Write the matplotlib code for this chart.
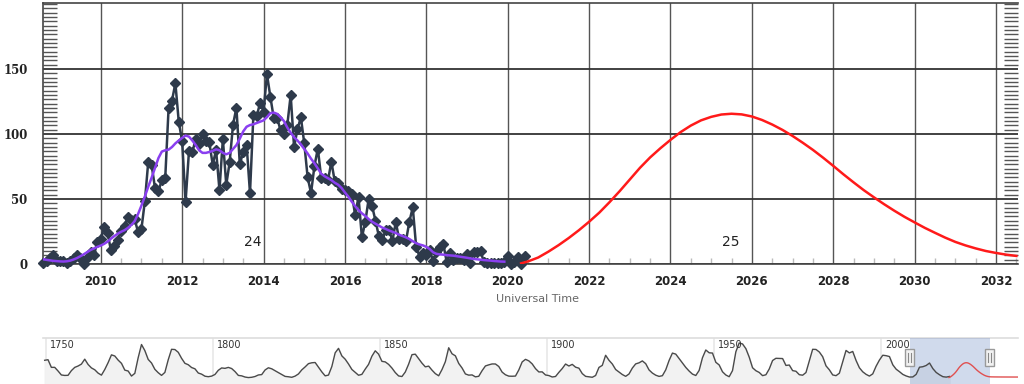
import matplotlib
matplotlib.use("Agg")
import matplotlib.pyplot as plt
from matplotlib.patches import Rectangle
from matplotlib.ticker import MultipleLocator

# ---------------- data ----------------
monthly_start_year = 2008
monthly_start_month = 8
monthly_ssn = [
    0.5, 2.0, 5.0, 6.8, 2.0,
    2.2, 2.0, 1.0, 2.0, 4.8, 7.0, 5.0, 0.0, 4.5, 9.5, 7.0, 17.0,
    19.6, 28.5, 24.0, 10.4, 13.9, 18.8, 25.2, 29.6, 36.4, 33.6, 34.4, 24.5,
    27.3, 48.3, 78.6, 76.1, 58.2, 56.1, 64.5, 65.8, 120.1, 125.7, 139.1, 109.3,
    94.4, 47.8, 86.6, 85.9, 96.5, 92.0, 100.1, 94.8, 93.7, 76.5, 87.6, 56.8,
    96.1, 60.9, 78.3, 107.3, 120.2, 76.7, 86.2, 91.8, 54.5, 114.4, 113.9, 124.2,
    117.0, 146.1, 128.7, 112.5, 112.5, 102.9, 100.2, 106.9, 130.0, 90.0, 103.6, 112.9,
    93.0, 66.7, 54.5, 75.3, 88.8, 66.5, 65.8, 64.4, 78.6, 63.6, 62.2, 58.0,
    57.0, 56.4, 54.1, 37.9, 51.5, 20.5, 32.4, 50.2, 44.6, 33.4, 21.4, 18.5,
    26.1, 26.4, 17.7, 32.3, 18.9, 19.2, 17.8, 32.6, 43.6, 13.2, 5.7, 8.2,
    6.8, 10.7, 2.5, 8.9, 13.1, 15.6, 1.6, 8.7, 3.3, 4.9, 4.9, 3.1,
    7.7, 0.8, 9.4, 9.1, 9.9, 1.2, 0.9, 0.5, 1.1, 0.4, 0.5, 1.5,
    6.2, 0.2, 1.5, 5.2, 0.2, 5.8,
]
smoothed_ssn = [
    3.6, 3.2, 2.8, 2.4, 2.2,
    2.0, 1.9, 2.1, 2.6, 3.5, 4.6, 6.0, 7.5, 9.2, 10.8, 12.0, 13.2,
    14.2, 15.5, 17.2, 19.5, 21.5, 23.3, 24.8, 26.0, 27.8, 30.0, 33.0, 38.5,
    45.0, 52.0, 59.5, 66.5, 74.0, 81.5, 86.5, 87.5, 88.0, 90.0, 92.8, 95.0,
    97.0, 98.8, 98.0, 95.0, 91.5, 87.5, 85.5, 85.5, 86.2, 87.0, 88.2, 87.5,
    85.5, 84.4, 85.5, 88.5, 91.5, 96.5, 102.0, 105.6, 106.9, 107.5, 108.5, 109.5,
    110.5, 113.0, 116.0, 116.5, 115.5, 113.0, 110.0, 105.0, 101.0, 97.5, 95.0, 92.0,
    88.5, 85.0, 81.0, 77.5, 73.5, 69.5, 67.5, 66.0, 64.5, 62.5, 61.0, 58.5,
    55.0, 51.8, 48.0, 44.5, 41.5, 39.0, 37.0, 34.5, 32.5, 31.0, 29.5, 28.0,
    27.0, 25.8, 24.8, 23.8, 22.5, 21.5, 20.5, 19.2, 17.5, 16.0, 15.0, 14.3,
    13.2, 11.5, 9.0, 7.8, 7.4, 7.2, 6.8, 6.6, 6.4, 6.0, 5.6, 5.2,
    4.8, 4.3, 3.9, 3.6, 3.3, 3.0, 2.8, 2.6, 2.3, 2.1, 1.9, 1.8,
]
pred_years = [2020.33, 2020.5, 2020.75, 2021.0, 2021.25, 2021.5, 2021.75,
              2022.0, 2022.25, 2022.5, 2022.75, 2023.0, 2023.25, 2023.5, 2023.75,
              2024.0, 2024.25, 2024.5, 2024.75, 2025.0, 2025.25, 2025.5, 2025.75,
              2026.0, 2026.25, 2026.5, 2026.75, 2027.0, 2027.25, 2027.5, 2027.75,
              2028.0, 2028.25, 2028.5, 2028.75, 2029.0, 2029.25, 2029.5, 2029.75,
              2030.0, 2030.25, 2030.5, 2030.75, 2031.0, 2031.25, 2031.5, 2031.75,
              2032.0, 2032.25, 2032.5]
pred_ssn = [0.5, 2.0, 5.0, 9.5, 14.5, 20.0, 26.0,
            32.5, 39.5, 47.5, 56.0, 65.0, 74.0, 82.0, 89.0,
            95.5, 101.5, 106.5, 110.5, 113.2, 115.0, 115.6, 115.1,
            113.5, 110.8, 107.3, 103.2, 98.5, 93.3, 87.8, 81.8,
            75.5, 69.0, 62.8, 56.8, 51.3, 46.0, 41.0, 36.3,
            32.0, 27.8, 24.0, 20.3, 17.0, 14.3, 12.0, 10.0,
            8.5, 7.2, 6.2]
pred_tail_years = [2033.0, 2034.0, 2035.0, 2036.0, 2037.0, 2038.0, 2039.0, 2040.0, 2041.0]
pred_tail_ssn = [5.5, 5.0, 4.8, 4.6, 4.5, 4.4, 4.3, 4.2, 4.2]

hist_start_year = 1749
hist_yearly_ssn = [
    134.7, 139.0, 79.5, 79.7, 51.3, 20.3, 16.6, 17.6, 54.0, 79.3, 90.0, 104.8, 143.2, 102.0, 75.2, 60.7,
    34.8, 19.0, 63.0, 116.3, 176.8, 168.0, 136.0, 110.8, 58.0, 51.0, 11.7, 33.0, 154.2, 257.3, 209.8, 141.3,
    113.5, 64.2, 38.0, 17.0, 40.2, 138.2, 220.0, 218.2, 196.8, 149.8, 111.0, 100.0, 78.2, 68.3, 35.5, 26.7,
    10.7, 6.8, 11.3, 24.2, 56.7, 75.0, 71.8, 79.2, 70.3, 46.8, 16.8, 13.5, 4.2, 0.0, 2.3, 8.3,
    20.3, 23.2, 59.0, 76.3, 68.3, 52.9, 38.5, 24.2, 9.2, 6.3, 2.2, 11.4, 28.2, 59.9, 83.0, 108.5,
    115.2, 117.4, 80.8, 44.3, 13.4, 19.5, 85.8, 192.7, 227.3, 168.7, 143.0, 105.5, 63.3, 40.3, 18.1, 25.1,
    65.8, 102.7, 166.3, 208.3, 182.5, 126.3, 122.0, 102.7, 74.1, 39.0, 12.7, 8.2, 43.4, 104.4, 178.3, 182.2,
    146.6, 112.1, 83.5, 89.2, 57.8, 30.7, 13.9, 62.8, 123.6, 232.0, 185.3, 169.2, 110.1, 74.5, 28.3, 18.9,
    20.7, 5.7, 10.0, 53.7, 90.5, 99.0, 106.1, 105.8, 86.3, 42.4, 21.8, 11.2, 10.4, 11.8, 59.5, 121.7,
    142.0, 130.0, 106.6, 69.4, 43.8, 44.4, 20.2, 15.7, 4.6, 8.5, 40.8, 70.1, 105.5, 90.1, 102.8, 80.9,
    73.2, 30.9, 9.5, 6.0, 2.4, 16.1, 79.0, 95.0, 173.6, 134.6, 105.7, 62.7, 43.5, 23.7, 9.7, 27.9,
    74.0, 106.5, 114.7, 129.7, 108.2, 59.4, 35.1, 18.6, 9.2, 14.6, 60.2, 132.8, 190.6, 182.6, 148.0, 113.0,
    79.2, 50.8, 27.1, 16.1, 55.3, 154.3, 214.7, 193.0, 190.7, 118.9, 98.3, 45.0, 20.1, 6.6, 54.2, 200.7,
    269.3, 261.7, 225.1, 159.0, 76.4, 53.4, 39.9, 15.0, 22.0, 66.8, 132.9, 150.0, 149.4, 148.0, 94.4, 97.6,
    54.1, 49.2, 22.5, 18.4, 39.3, 131.0, 220.1, 218.9, 198.9, 162.4, 91.0, 60.5, 20.6, 14.8, 33.9, 123.0,
    211.1, 191.8, 203.3, 133.0, 76.1, 44.9, 25.1, 11.6, 28.9, 88.3, 136.3, 173.9, 170.4, 163.6, 99.3, 65.3,
    45.8, 24.7, 12.6, 4.2, 4.8, 24.9, 80.8, 84.5, 94.0, 113.3, 69.8, 39.8, 21.7, 7.0, 3.6, 8.8,
]

x_ticks = [2010, 2012, 2014, 2016, 2018, 2020, 2022, 2024, 2026, 2028, 2030, 2032]
y_ticks = [0, 50, 100, 150]
nav_labels = [1750, 1800, 1850, 1900, 1950, 2000]
cycle_labels = ["24", "25"]
cycle_pos = [(2013.74, 17), (2025.48, 17)]
x_title = "Universal Time"

# ---------------- derived positions ----------------
mdates = [monthly_start_year + (monthly_start_month - 1 + i) / 12.0 for i in range(len(monthly_ssn))]
sdates = [monthly_start_year + (monthly_start_month - 1 + i) / 12.0 for i in range(len(smoothed_ssn))]
hyears = [hist_start_year + i + 0.5 for i in range(len(hist_yearly_ssn))]

W, H = 1024, 384
fig = plt.figure(figsize=(W / 100, H / 100), dpi=100)
fig.patch.set_facecolor("white")


def fx(px):
    return px / W


def fy(py):
    return 1 - py / H


# ---------------- main chart ----------------
L, R, T, B = 43, 1018, 3, 264
ax = fig.add_axes([fx(L), fy(B), (R - L) / W, (B - T) / H])
ax.set_xlim(2008.58, 2032.54)
ax.set_ylim(0, 200.8)

ax.plot(mdates, monthly_ssn, color="#2e3a4b", lw=1.8, marker="D", ms=5.5,
        mec="#2e3a4b", mfc="#2e3a4b", zorder=3, clip_on=False)
ax.plot(sdates, smoothed_ssn, color="#8a3ff0", lw=1.8, zorder=4)
ax.plot(pred_years, pred_ssn, color="#ff1a1a", lw=1.8, zorder=4)

ax.set_xticks(x_ticks)
ax.set_yticks(y_ticks)
ax.xaxis.set_minor_locator(MultipleLocator(0.5))
ax.yaxis.set_minor_locator(MultipleLocator(10 / 3))
ax.grid(True, which="major", axis="x", color="#555555", lw=1.0, zorder=1)
ax.grid(True, which="major", axis="y", color="#333333", lw=1.3, zorder=1)
ax.tick_params(axis="x", which="major", length=0, pad=8, labelsize=8.5,
               labelcolor="#222222")
ax.tick_params(axis="y", which="major", length=0, pad=11, labelsize=8.5,
               labelcolor="#222222")
ax.tick_params(axis="x", which="minor", direction="in", length=4, color="#bbbbbb", width=1)
ax.tick_params(axis="y", which="minor", direction="in", length=10, color="#555555",
               width=1, left=True, right=True)
for lab in ax.get_xticklabels():
    lab.set_fontweight("bold")
for lab in ax.get_yticklabels():
    lab.set_fontfamily("DejaVu Serif")
    lab.set_fontweight("bold")
for side in ["left", "top", "bottom", "right"]:
    ax.spines[side].set_color("#444444")
    ax.spines[side].set_linewidth(1.2)
ax.spines["right"].set_visible(False)

for txt, (xx, yy) in zip(cycle_labels, cycle_pos):
    ax.text(xx, yy, txt, ha="center", va="center", fontsize=10, color="#222222")

fig.text(fx(538), fy(299), x_title, ha="center", va="center", fontsize=8,
         color="#666666")

# ---------------- navigator ----------------
NT, NB = 338, 384
nav = fig.add_axes([fx(L), fy(NB), (R - L) / W, (NB - NT) / H])
nav.set_xlim(1749.0, 2041.0)
nav.set_ylim(-50, 308)
nav.set_facecolor("white")
for s in nav.spines.values():
    s.set_visible(False)
nav.set_xticks([])
nav.set_yticks([])
nav.axhline(308, color="#dddddd", lw=1.2, clip_on=False)
for yr in nav_labels:
    nav.axvline(yr, color="#e8e8e8", lw=1.2, zorder=0)
    nav.text(yr + 1.2, 250, str(yr), fontsize=7, color="#333333", va="center",
             ha="left", zorder=5)
nav.fill_between(hyears, hist_yearly_ssn, -50, color="#f2f2f2", zorder=1)
nav.plot(hyears, hist_yearly_ssn, color="#4a4a4a", lw=1.0, zorder=3)
nav.plot(pred_years + pred_tail_years, pred_ssn + pred_tail_ssn, color="#e05050",
         lw=1.0, zorder=3)
x0, x1 = ax.get_xlim()
nav.axvspan(x0, x1, color=(102 / 255, 133 / 255, 194 / 255), alpha=0.3, lw=0, zorder=2)

for hx in (x0, x1):
    px = L + (hx - 1749.0) / (2041.0 - 1749.0) * (R - L)
    fig.patches.append(Rectangle((fx(px - 4.5), fy(366)), 9 / W, 17 / H,
                                 transform=fig.transFigure, facecolor="#f2f2f2",
                                 edgecolor="#999999", lw=1, zorder=10))
    for dx in (-1.5, 1.5):
        fig.lines.append(plt.Line2D([fx(px + dx), fx(px + dx)], [fy(362), fy(353)],
                                    transform=fig.transFigure, color="#888888", lw=0.8,
                                    zorder=11))

fig.savefig("out.png", dpi=100)
